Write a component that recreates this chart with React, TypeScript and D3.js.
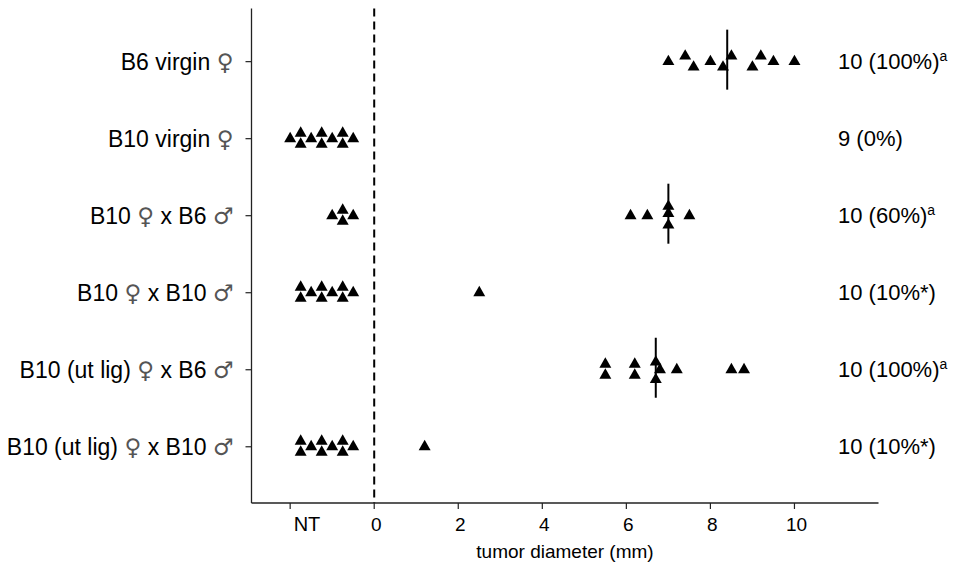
import React from "react";
import * as d3 from "d3";

// ---- data ----
const categories = [
  "B6 virgin ♀",
  "B10 virgin ♀",
  "B10 ♀ x B6 ♂",
  "B10 ♀ x B10 ♂",
  "B10 (ut lig) ♀ x B6 ♂",
  "B10 (ut lig) ♀ x B10 ♂",
];
const countLabels = ["10 (100%)", "9 (0%)", "10 (60%)", "10 (10%*)", "10 (100%)", "10 (10%*)"];
const countSuperscripts = ["a", "", "a", "", "a", ""];
const showMedian = [true, false, true, false, true, false];

const xTickValues = [0, 2, 4, 6, 8, 10];
const ntTickValue = -2;
const ntLabelValue = -1.6;
const ntLabel = "NT";
const xTitle = "tumor diameter (mm)";

// NT points are placed on the negative side of the axis (not-tumor group)
const ntFull = [-2.0, -1.75, -1.75, -1.5, -1.25, -1.25, -1.0, -0.75, -0.75, -0.5];
const ntFullLevels = [0, -1, 1, 0, -1, 1, 0, -1, 1, 0];
const ntNine = [-1.75, -1.75, -1.5, -1.25, -1.25, -1.0, -0.75, -0.75, -0.5];
const ntNineLevels = [-1, 1, 0, -1, 1, 0, -1, 1, 0];
const ntFour = [-1.0, -0.75, -0.75, -0.5];
const ntFourLevels = [0, -1, 1, 0];

const row0Values = [7.0, 7.4, 7.6, 8.0, 8.3, 8.5, 9.0, 9.2, 9.5, 10.0];
const row0Levels = [0, -1, 1, 0, 1, -1, 1, -1, 0, 0];
const row2Values = [6.1, 6.5, 7.0, 7.0, 7.0, 7.5];
const row2Levels = [0, 0, -1.7, -0.4, 1.7, 0];
const row3Values = [2.5];
const row3Levels = [0];
const row4Values = [5.5, 5.5, 6.2, 6.2, 6.7, 6.8, 6.7, 7.2, 8.5, 8.8];
const row4Levels = [-1, 1, -1, 1, -1.4, 0, 1.8, 0, 0, 0];
const row5Values = [1.2];
const row5Levels = [0];

const rowNT = [[], ntFull, ntFour, ntNine, [], ntNine];
const rowNTLevels = [[], ntFullLevels, ntFourLevels, ntNineLevels, [], ntNineLevels];
const rowTumor = [row0Values, [], row2Values, row3Values, row4Values, row5Values];
const rowTumorLevels = [row0Levels, [], row2Levels, row3Levels, row4Levels, row5Levels];

const W = 954;
const H = 575;
const FONT = "'Liberation Sans', Arial, Helvetica, sans-serif";
const SYMBOL_FONT = "'DejaVu Sans', sans-serif";

function labelParts(s: string) {
  // split so that gender symbols are drawn with a font that has them
  return s.split(/([♀♂])/).filter((p) => p.length > 0);
}

export default function App() {
  const x = d3.scaleLinear().domain([-2.92, 12]).range([251.5, 878.5]);
  const y = d3.scaleLinear().domain([-0.69, 5.73]).range([8.5, 503]);
  const [x0, x1] = x.range();
  const [yTop, yBottom] = y.range();
  const levelStep = 5.5;
  const tri = d3.symbol().type(d3.symbolTriangle).size(62)();

  const points: { v: number; row: number; lvl: number }[] = [];
  categories.forEach((_, r) => {
    rowNT[r].forEach((v, i) => points.push({ v, row: r, lvl: rowNTLevels[r][i] }));
    rowTumor[r].forEach((v, i) => points.push({ v, row: r, lvl: rowTumorLevels[r][i] }));
  });

  return (
    <svg width={W} height={H} style={{ position: "absolute", left: 0, top: 0 }} fontFamily={FONT}>
      <rect width={W} height={H} fill="#fff" />
      {/* axes */}
      <line x1={x0} x2={x0} y1={yTop} y2={yBottom} stroke="#222" strokeWidth={1.3} />
      <line x1={x0} x2={x1} y1={yBottom} y2={yBottom} stroke="#222" strokeWidth={1.3} />
      {/* dashed zero line */}
      <line x1={x(0)} x2={x(0)} y1={yTop} y2={yBottom} stroke="#000" strokeWidth={2} strokeDasharray="8,5" />
      {/* y ticks and labels */}
      {categories.map((c, i) => (
        <g key={c}>
          <line x1={x0 - 6} x2={x0} y1={y(i)} y2={y(i)} stroke="#222" strokeWidth={1.2} />
          <text x={x0 - 18} y={y(i)} textAnchor="end" dominantBaseline="central" fontSize={23} fill="#000">
            {labelParts(c).map((p, k) =>
              p === "♀" || p === "♂" ? (
                <tspan key={k} fontFamily={SYMBOL_FONT} fontSize={23} fill="#555">
                  {p}
                </tspan>
              ) : (
                <tspan key={k}>{p}</tspan>
              )
            )}
          </text>
          <text x={838} y={y(i)} dominantBaseline="central" fontSize={22} fill="#000">
            {countLabels[i]}
            {countSuperscripts[i] && (
              <tspan fontSize={14} dy={-6}>
                {countSuperscripts[i]}
              </tspan>
            )}
          </text>
        </g>
      ))}
      {/* x ticks */}
      {[ntTickValue, ...xTickValues].map((t) => (
        <line key={t} x1={x(t)} x2={x(t)} y1={yBottom} y2={yBottom + 6} stroke="#222" strokeWidth={1.2} />
      ))}
      {xTickValues.map((t) => (
        <text key={t} x={x(t) + 2} y={531} textAnchor="middle" fontSize={19} fill="#000">
          {t}
        </text>
      ))}
      <text x={x(ntLabelValue)} y={531} textAnchor="middle" fontSize={20} fill="#000">
        {ntLabel}
      </text>
      <text x={(x0 + x1) / 2} y={558} textAnchor="middle" fontSize={19} fill="#000">
        {xTitle}
      </text>
      {/* median lines */}
      {categories.map((_, r) => {
        if (!showMedian[r]) return null;
        const m = d3.median(rowTumor[r]) as number;
        return <line key={"m" + r} x1={x(m)} x2={x(m)} y1={y(r) - 32} y2={y(r) + 28} stroke="#000" strokeWidth={2} />;
      })}
      {/* points */}
      {points.map((p, i) => (
        <path key={i} d={tri} transform={`translate(${x(p.v)},${y(p.row) + p.lvl * levelStep})`} fill="#000" />
      ))}
    </svg>
  );
}
